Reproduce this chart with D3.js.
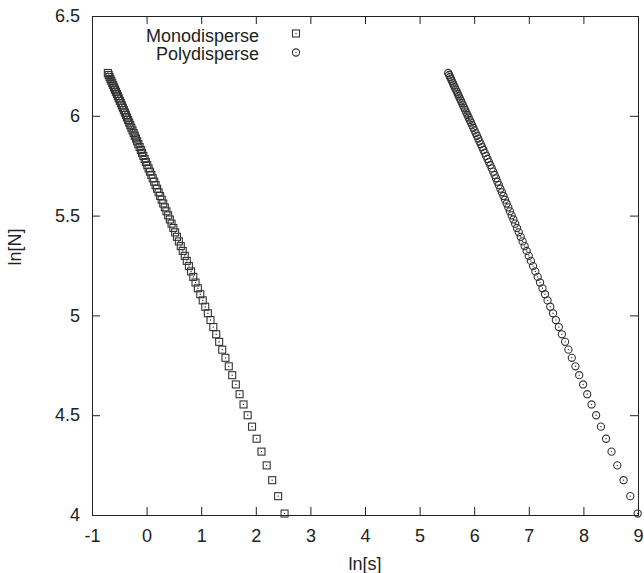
<!DOCTYPE html>
<html>
<head>
<meta charset="utf-8">
<script src="https://cdn.jsdelivr.net/npm/d3@7"></script>
<style>
  body { margin: 0; background: #fff; }
  text { font-family: "Liberation Sans", Arial, sans-serif; fill: #222; }
</style>
</head>
<body>
<div id="chart"></div>
<script>
// cluster counts N (same for both runs)
const counts = [500, 495, 490, 485, 480, 475, 470, 465, 460, 455, 450, 445, 440, 435, 430,
  425, 420, 415, 410, 405, 400, 395, 390, 385, 380, 375, 370, 365, 360, 355, 350, 345, 340,
  335, 330, 325, 320, 315, 310, 305, 300, 295, 290, 285, 280, 275, 270, 265, 260, 255, 250,
  245, 240, 235, 230, 225, 220, 215, 210, 205, 200, 195, 190, 185, 180, 175, 170, 165, 160,
  155, 150, 145, 140, 135, 130, 125, 120, 115, 110, 105, 100, 95, 90, 85, 80, 75, 70, 65, 60, 55];

// ln[s] for the monodisperse run
const lnSMono = [-0.710, -0.694, -0.678, -0.662, -0.645, -0.629, -0.612, -0.595, -0.578, -0.561,
  -0.543, -0.526, -0.508, -0.490, -0.472, -0.453, -0.435, -0.416, -0.397, -0.378, -0.359, -0.339,
  -0.319, -0.299, -0.279, -0.258, -0.237, -0.216, -0.194, -0.173, -0.151, -0.128, -0.106, -0.083,
  -0.060, -0.036, -0.012, 0.012, 0.036, 0.061, 0.087, 0.112, 0.139, 0.165, 0.192, 0.220, 0.248,
  0.276, 0.305, 0.334, 0.364, 0.395, 0.426, 0.457, 0.490, 0.523, 0.556, 0.591, 0.626, 0.662,
  0.699, 0.736, 0.775, 0.814, 0.855, 0.896, 0.939, 0.983, 1.028, 1.074, 1.122, 1.171, 1.222,
  1.275, 1.329, 1.385, 1.444, 1.505, 1.568, 1.634, 1.703, 1.775, 1.851, 1.931, 2.015, 2.104,
  2.199, 2.300, 2.409, 2.527];

// ln[s] for the polydisperse run
const lnSPoly = [5.524, 5.541, 5.558, 5.575, 5.592, 5.610, 5.627, 5.645, 5.663, 5.682, 5.700,
  5.719, 5.737, 5.757, 5.776, 5.795, 5.815, 5.835, 5.855, 5.876, 5.897, 5.918, 5.939, 5.961,
  5.982, 6.005, 6.027, 6.050, 6.073, 6.096, 6.120, 6.144, 6.168, 6.193, 6.218, 6.243, 6.269,
  6.296, 6.322, 6.347, 6.373, 6.399, 6.425, 6.452, 6.479, 6.507, 6.536, 6.564, 6.594, 6.624,
  6.654, 6.686, 6.718, 6.750, 6.783, 6.817, 6.852, 6.887, 6.924, 6.961, 6.999, 7.038, 7.078,
  7.120, 7.162, 7.205, 7.250, 7.296, 7.344, 7.393, 7.444, 7.496, 7.550, 7.606, 7.665, 7.725,
  7.788, 7.854, 7.923, 7.995, 8.070, 8.149, 8.233, 8.321, 8.415, 8.515, 8.621, 8.736, 8.859, 8.994];

const xTicks = [-1, 0, 1, 2, 3, 4, 5, 6, 7, 8, 9];
const yTicks = [4, 4.5, 5, 5.5, 6, 6.5];
const seriesNames = ["Monodisperse", "Polydisperse"];

const width = 644, height = 573;
const margin = {top: 16, right: 6, bottom: 58, left: 92};

const svg = d3.select("#chart")
  .append("svg")
  .attr("width", width)
  .attr("height", height);

const x = d3.scaleLinear()
  .domain([-1, 9])
  .range([margin.left, width - margin.right]);

const y = d3.scaleLinear()
  .domain([4, 6.5])
  .range([height - margin.bottom, margin.top]);

// axes, gnuplot style: ticks pointing in, mirrored on top/right
const fmt = d => String(d); // plain hyphen for negatives, like the original
svg.append("g")
  .attr("transform", `translate(0,${height - margin.bottom})`)
  .call(d3.axisBottom(x).tickValues(xTicks).tickFormat(fmt).tickSize(-8).tickPadding(14))
  .attr("font-size", 18);

svg.append("g")
  .attr("transform", `translate(${margin.left},0)`)
  .call(d3.axisLeft(y).tickValues(yTicks).tickFormat(fmt).tickSize(-8).tickPadding(12))
  .attr("font-size", 18);

svg.append("g")
  .attr("transform", `translate(0,${margin.top})`)
  .call(d3.axisTop(x).tickValues(xTicks).tickFormat("").tickSize(-8));

svg.append("g")
  .attr("transform", `translate(${width - margin.right},0)`)
  .call(d3.axisRight(y).tickValues(yTicks).tickFormat("").tickSize(-8));

svg.selectAll(".domain").attr("stroke", "#222");
svg.selectAll(".tick line").attr("stroke", "#222");
svg.selectAll(".tick text").attr("fill", "#222").attr("font-family", "Liberation Sans, Arial, sans-serif");

// axis titles
svg.append("text")
  .attr("x", 365)
  .attr("y", 570)
  .attr("text-anchor", "middle")
  .attr("font-size", 18)
  .text("ln[s]");

svg.append("text")
  .attr("transform", "translate(21,247) rotate(-90)")
  .attr("text-anchor", "middle")
  .attr("font-size", 18)
  .text("ln[N]");

const mono = counts.map((n, i) => ({s: lnSMono[i], n: n}));
const poly = counts.map((n, i) => ({s: lnSPoly[i], n: n}));

const plot = svg.append("g");

// square markers with a centre dot
function square(g, cx, cy) {
  g.append("rect")
    .attr("x", cx - 3.5).attr("y", cy - 3.5)
    .attr("width", 7).attr("height", 7)
    .attr("fill", "none").attr("stroke", "#333").attr("stroke-width", 1.1);
  g.append("rect")
    .attr("x", cx - 0.6).attr("y", cy - 0.6)
    .attr("width", 1.2).attr("height", 1.2)
    .attr("fill", "#333");
}

function ring(g, cx, cy) {
  g.append("circle")
    .attr("cx", cx).attr("cy", cy).attr("r", 3.6)
    .attr("fill", "none").attr("stroke", "#333").attr("stroke-width", 1.1);
  g.append("circle")
    .attr("cx", cx).attr("cy", cy).attr("r", 0.7)
    .attr("fill", "#333");
}

const gMono = plot.append("g");
mono.forEach(d => square(gMono, x(d.s), y(Math.log(d.n))));

const gPoly = plot.append("g");
poly.forEach(d => ring(gPoly, x(d.s), y(Math.log(d.n))));

// legend
const legend = svg.append("g").attr("font-size", 18);
seriesNames.forEach((name, i) => {
  const base = 41.5 + i * 18;
  legend.append("text")
    .attr("x", 259)
    .attr("y", base)
    .attr("text-anchor", "end")
    .text(name);
  if (i === 0) square(legend, 296, base - 8);
  else ring(legend, 296, base - 7);
});
</script>
</body>
</html>
